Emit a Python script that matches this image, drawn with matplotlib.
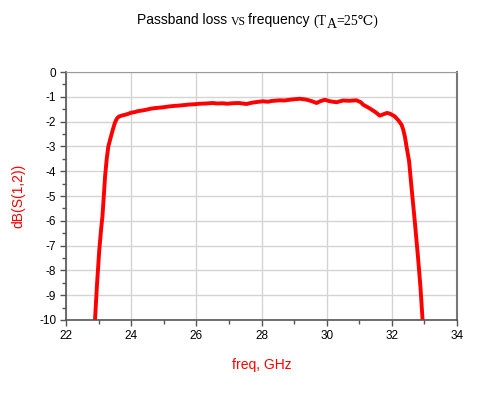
import matplotlib
matplotlib.use("Agg")
import matplotlib.pyplot as plt

freq = [22.89, 22.95, 23.02, 23.08, 23.12, 23.17, 23.20, 23.25, 23.30, 23.36, 23.42, 23.50, 23.56,
        23.62, 23.70, 23.80, 23.90, 24.00, 24.10, 24.20, 24.35, 24.47, 24.60, 24.70, 24.85, 25.00,
        25.15, 25.30, 25.50, 25.65, 25.80, 25.95, 26.10, 26.30, 26.50, 26.65, 26.80, 26.95, 27.10,
        27.30, 27.54, 27.70, 27.80, 28.04, 28.20, 28.30, 28.56, 28.70, 28.80, 29.00, 29.18, 29.30,
        29.40, 29.55, 29.69, 29.80, 29.94, 30.10, 30.30, 30.50, 30.70, 30.91, 31.05, 31.12, 31.30,
        31.50, 31.63, 31.75, 31.85, 31.94, 32.09, 32.20, 32.30, 32.35, 32.40, 32.45, 32.53, 32.60,
        32.70, 32.81, 32.88, 32.94, 32.96]
db = [-10.0, -8.6, -7.2, -6.3, -5.8, -4.8, -4.2, -3.5, -3.0, -2.7, -2.4, -2.05, -1.88,
      -1.80, -1.76, -1.73, -1.69, -1.64, -1.62, -1.58, -1.55, -1.52, -1.48, -1.46, -1.44, -1.42,
      -1.39, -1.37, -1.35, -1.33, -1.31, -1.30, -1.28, -1.27, -1.25, -1.27, -1.26, -1.28, -1.26,
      -1.25, -1.29, -1.24, -1.22, -1.18, -1.20, -1.17, -1.14, -1.15, -1.13, -1.10, -1.08, -1.10,
      -1.12, -1.18, -1.25, -1.18, -1.12, -1.18, -1.22, -1.15, -1.16, -1.14, -1.22, -1.32, -1.45,
      -1.62, -1.76, -1.70, -1.65, -1.68, -1.79, -1.95, -2.13, -2.33, -2.60, -3.0, -3.6, -4.6,
      -5.96, -7.57, -8.7, -9.93, -10.2]

xticks = [22, 24, 26, 28, 30, 32, 34]
yticks = [0, -1, -2, -3, -4, -5, -6, -7, -8, -9, -10]

plt.rcParams['font.family'] = ['Liberation Sans', 'DejaVu Sans']

fig = plt.figure(figsize=(4.93, 3.93), dpi=100)
ax = fig.add_axes([66/493, 73/393, 391/493, 248/393])

ax.plot(freq, db, color='#ff0000', lw=2.8, solid_joinstyle='round')

ax.set_xlim(22, 34)
ax.set_ylim(-10, 0)
ax.set_xticks(xticks)
ax.set_yticks(yticks)
ax.set_xticks([23, 25, 27, 29, 31, 33], minor=True)
ax.set_yticks([-0.5 - i for i in range(10)], minor=True)
ax.set_yticklabels([str(v) for v in yticks])
ax.tick_params(axis='both', which='major', labelsize=8.5, length=4, width=1, color='#555555', pad=3)
ax.tick_params(axis='both', which='minor', length=3, width=1, color='#555555')
ax.grid(True, which='major', color='#d4d4d4', lw=1)
ax.set_axisbelow(True)
for s in ['left', 'bottom']:
    ax.spines[s].set_color('#555555')
    ax.spines[s].set_linewidth(1.2)
ax.spines['top'].set_color('#999999')
ax.spines['right'].set_color('#777777')
ax.spines['right'].set_linewidth(1.5)

ax.set_xlabel('freq, GHz', color='#ff0000', fontsize=10, labelpad=12)
ax.set_ylabel('dB(S(1,2))', color='#ff0000', fontsize=10, labelpad=10)

# title in mixed fonts, pieces placed on a common baseline
serif = ['Liberation Serif', 'DejaVu Serif']
pieces = [
    ('Passband loss ', None, 10, 0),
    ('VS', serif, 8.5, -1),
    ('frequency ', None, 10, 0),
    ('(T', serif, 10, -1),
    ('A', serif, 10, -4),
    ('=25\u2103)', serif, 10, -1),
]
renderer = fig.canvas.get_renderer()
x = 137.0
base = 393 - 24.0
for txt, fam, fs, dy in pieces:
    kw = {} if fam is None else {'family': fam}
    t = fig.text(x / 493, (base + dy) / 393, txt, fontsize=fs, ha='left', va='baseline', **kw)
    bb = t.get_window_extent(renderer=renderer)
    x += bb.width + (2 if txt == 'VS' else 0)

fig.savefig('out.png', dpi=100)
